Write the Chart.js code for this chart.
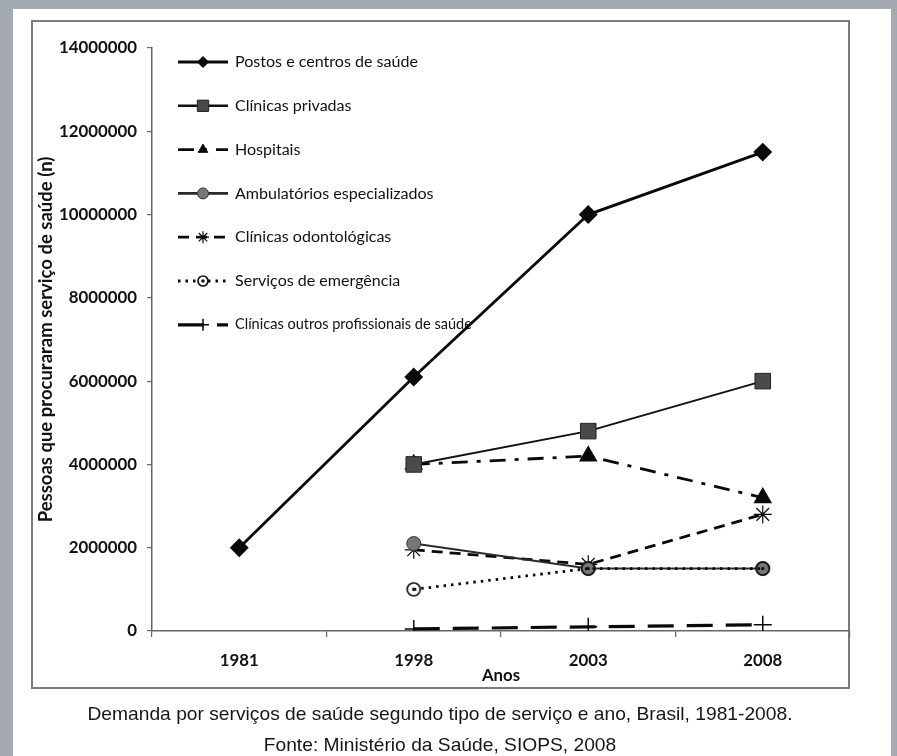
<!DOCTYPE html>
<html><head><meta charset="utf-8">
<script src="https://cdn.jsdelivr.net/npm/chart.js@4.4.1/dist/chart.umd.min.js"></script>
<style>
html,body{margin:0;padding:0;}
body{width:897px;height:756px;background:#a3aab2;position:relative;overflow:hidden;}
#panel{position:absolute;left:13px;top:9px;width:878px;height:747px;background:#fff;}
#box{position:absolute;left:31px;top:20px;width:815px;height:665px;border:2px solid #7c7c7c;}
#c{position:absolute;left:0;top:0;}
.cap{position:absolute;left:440px;font-family:"Liberation Sans",Arial,sans-serif;font-size:19px;color:#161616;white-space:nowrap;transform-origin:center center;}
</style></head>
<body>
<div id="panel"></div>
<div id="box"></div>
<canvas id="c" width="897" height="756"></canvas>
<div class="cap" id="cap1" style="top:714px">Demanda por serviços de saúde segundo tipo de serviço e ano, Brasil, 1981-2008.</div>
<div class="cap" id="cap2" style="top:745px">Fonte: Ministério da Saúde, SIOPS, 2008</div>
<script>
// ---- data ----
const years = ['1981', '1998', '2003', '2008'];
const seriesNames = [
  'Postos e centros de saúde',
  'Clínicas privadas',
  'Hospitais',
  'Ambulatórios especializados',
  'Clínicas odontológicas',
  'Serviços de emergência',
  'Clínicas outros profissionais de saúde'
];
const postos       = [2000000, 6100000, 10000000, 11500000];
const privadas     = [null, 4000000, 4800000, 6000000];
const hospitais    = [null, 4000000, 4200000, 3200000];
const ambulatorios = [null, 2100000, 1500000, 1500000];
const odonto       = [null, 1950000, 1600000, 2800000];
const emergencia   = [null, 1000000, 1500000, 1500000];
const outros       = [null, 50000, 100000, 150000];
const yTickLabels  = ['0', '2000000', '4000000', '6000000', '8000000', '10000000', '12000000', '14000000'];
const xTitle = 'Anos';
const yTitle = 'Pessoas que procuraram serviço de saúde (n)';

// ---- font fitting helpers ----
const mctx = document.createElement('canvas').getContext('2d');
function fitSize(text, weight, family, target) {
  mctx.font = weight + ' 100px ' + family;
  return 100 * target / mctx.measureText(text).width;
}
const FAM = 'Lato';
const tickSize = fitSize('14000000', 'bold', FAM, 78);
const legSize = fitSize(seriesNames[0], 'normal', FAM, 183);
const legSmall = fitSize(seriesNames[6], 'normal', FAM, 237);
const yTitleSize = fitSize(yTitle, 'bold', FAM, 366);

// caption scaling (narrow look)
mctx.font = '19px "Liberation Sans"';
const capScale = 705 / mctx.measureText(document.getElementById('cap1').textContent).width;
['cap1', 'cap2'].forEach(id => {
  document.getElementById(id).style.transform = 'translate(-50%,-50%) scaleX(' + capScale + ')';
});

// emergency marker: ring with centre dot
function ringDot(r, fill) {
  const s = r * 2 + 4;
  const cv = document.createElement('canvas');
  cv.width = s; cv.height = s;
  const g = cv.getContext('2d');
  g.beginPath(); g.arc(s / 2, s / 2, r, 0, Math.PI * 2);
  if (fill) { g.fillStyle = fill; g.fill(); }
  g.lineWidth = 1.7; g.strokeStyle = '#111'; g.stroke();
  g.beginPath(); g.arc(s / 2, s / 2, 1.7, 0, Math.PI * 2);
  g.fillStyle = '#111'; g.fill();
  return cv;
}
const ringBig = ringDot(6.5, null);
const ringSmall = ringDot(5, '#fff');

const datasets = [
  {label: seriesNames[0], data: postos, order: -2, borderColor: '#0a0a0a', borderWidth: 2.8, pointStyle: 'rectRot', pointRadius: 7.5, pointBackgroundColor: '#0a0a0a', pointBorderColor: '#0a0a0a', legR: 5.5},
  {label: seriesNames[1], data: privadas, borderColor: '#111', borderWidth: 2, pointStyle: 'rect', pointRadius: 11, pointBackgroundColor: '#4a4a4a', pointBorderColor: '#222', pointBorderWidth: 1, legR: 8},
  {label: seriesNames[2], data: hospitais, borderColor: '#0a0a0a', borderWidth: 2.8, borderDash: [16, 9, 4, 9], pointStyle: 'triangle', pointRadius: 8, pointBackgroundColor: '#0a0a0a', pointBorderColor: '#0a0a0a', legR: 5.5},
  {label: seriesNames[3], data: ambulatorios, borderColor: '#2a2a2a', borderWidth: 2, pointStyle: 'circle', pointRadius: 7, pointBackgroundColor: '#777', pointBorderColor: '#333', pointBorderWidth: 1, legR: 5.5},
  {label: seriesNames[4], data: odonto, borderColor: '#0a0a0a', borderWidth: 2.8, borderDash: [11, 7], pointStyle: 'star', pointRadius: 9, pointBackgroundColor: '#0a0a0a', pointBorderColor: '#0a0a0a', pointBorderWidth: 1.2, legR: 6},
  {label: seriesNames[5], data: emergencia, order: -1, borderColor: '#0a0a0a', borderWidth: 2.8, borderDash: [2.5, 5], pointStyle: ringBig, legImg: ringSmall, pointRadius: 7, legR: 5},
  {label: seriesNames[6], data: outros, borderColor: '#0a0a0a', borderWidth: 3.2, borderDash: [26, 13], pointStyle: 'cross', pointRadius: 9, pointBorderColor: '#0a0a0a', pointBorderWidth: 1.5, legR: 6}
];
datasets.forEach(d => { d.fill = false; d.tension = 0; d.spanGaps = false; d.pointHoverRadius = d.pointRadius; });

// legend drawn inside the plot area
const legendPlugin = {
  id: 'innerLegend',
  beforeDatasetsDraw(chart) {
    const ctx = chart.ctx;
    const x0 = 178, x1 = 228, xm = 203, tx = 235;
    chart.data.datasets.forEach((d, i) => {
      const y = 62 + i * 43.8;
      ctx.save();
      ctx.strokeStyle = d.borderColor;
      ctx.lineWidth = Math.max(d.borderWidth, 2.6);
      ctx.setLineDash(d.borderDash || []);
      ctx.beginPath(); ctx.moveTo(x0, y); ctx.lineTo(x1, y); ctx.stroke();
      ctx.setLineDash([]);
      if (d.legImg) {
        ctx.drawImage(d.legImg, xm - d.legImg.width / 2, y - d.legImg.height / 2);
      } else {
        ctx.fillStyle = d.pointBackgroundColor || d.borderColor;
        ctx.strokeStyle = d.pointBorderColor || d.borderColor;
        ctx.lineWidth = d.pointBorderWidth || 1;
        Chart.helpers.drawPoint(ctx, {pointStyle: d.pointStyle, radius: d.legR, rotation: 0, borderWidth: d.pointBorderWidth || 1}, xm, y);
      }
      ctx.fillStyle = '#111';
      ctx.textBaseline = 'middle';
      ctx.textAlign = 'left';
      const sz = i === 6 ? legSmall : legSize;
      ctx.font = 'normal ' + sz.toFixed(2) + 'px ' + FAM;
      ctx.fillText(d.label, tx, y);
      ctx.restore();
    });
  }
};

new Chart(document.getElementById('c'), {
  type: 'line',
  data: {labels: years, datasets: datasets},
  plugins: [legendPlugin],
  options: {
    responsive: false,
    devicePixelRatio: 1,
    animation: false,
    events: [],
    layout: {padding: {left: 31, top: 48, right: 47, bottom: 67}},
    plugins: {legend: {display: false}, tooltip: {enabled: false}, title: {display: false}},
    scales: {
      x: {
        type: 'category',
        offset: true,
        grid: {offset: true, drawOnChartArea: false, drawTicks: true, tickLength: 6, color: '#666', lineWidth: 1.2},
        border: {display: true, color: '#666', width: 1.5},
        ticks: {color: '#111', padding: 13, font: {family: FAM, size: tickSize, weight: 'bold'}},
        title: {display: true, text: xTitle, color: '#111', font: {family: FAM, size: tickSize, weight: 'bold'}, padding: {top: 0, bottom: 3}},
        afterFit(s) { s.height = 58; }
      },
      y: {
        min: 0, max: 14000000,
        ticks: {stepSize: 2000000, color: '#111', padding: 10, font: {family: FAM, size: tickSize, weight: 'bold'},
          callback: (v, i) => yTickLabels[i]},
        grid: {drawOnChartArea: false, drawTicks: true, tickLength: 5, color: '#666', lineWidth: 1.2},
        border: {display: true, color: '#666', width: 1.5},
        title: {display: true, text: yTitle, color: '#111', font: {family: FAM, size: yTitleSize, weight: 'bold'}, padding: {top: 4, bottom: 0}},
        afterFit(s) { s.width = 121; }
      }
    }
  }
});
</script>
</body></html>
